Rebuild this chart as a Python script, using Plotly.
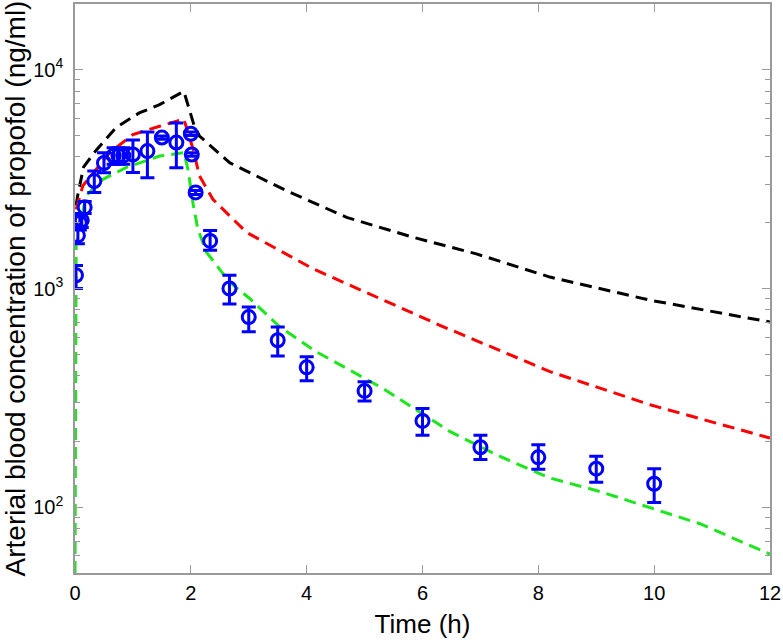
import plotly.graph_objects as go

# Observed data (mean with asymmetric error bars)
t_obs = [0.017, 0.05, 0.083, 0.117, 0.167, 0.333, 0.5, 0.667, 0.75, 0.833, 1.0, 1.25,
         1.5, 1.75, 2.0, 2.017, 2.083, 2.333, 2.667, 3.0, 3.5, 4.0, 5.0, 6.0, 7.0, 8.0, 9.0, 10.0]
c_obs = [1150, 1750, 2000, 2050, 2350, 3100, 3750, 4050, 4050, 4050, 4100, 4250,
         4900, 4650, 5100, 4100, 2750, 1650, 1000, 740, 580, 436, 340, 248, 188, 169, 150, 128]
err_up = [125, 150, 150, 150, 150, 350, 430, 350, 350, 350, 680, 940,
          80, 1060, 90, 80, 60, 190, 150, 82, 86, 52, 35, 35, 25, 24, 21, 22]
err_dn = [150, 150, 150, 150, 150, 350, 370, 350, 350, 350, 710, 1040,
          80, 1080, 90, 80, 60, 155, 150, 106, 89, 57, 34, 35, 23, 20, 20, 23]

# Model prediction curves
t_black = [0.02, 0.05, 0.15, 0.37, 0.71, 1.11, 1.46, 1.88, 2.06, 2.15, 2.67, 3.65, 4.69, 5.84, 6.93, 8.2, 9.93, 12.0]
c_black = [2400, 2700, 3600, 4300, 5450, 6350, 6930, 7970, 5520, 4980, 3760, 2800, 2115, 1714, 1440, 1128, 884, 703]

t_red = [0.02, 0.05, 0.135, 0.6, 1.0, 1.46, 1.88, 2.04, 2.15, 2.38, 2.96, 4.11, 5.26, 6.3, 8.2, 9.93, 12.0]
c_red = [2300, 2450, 2950, 4180, 5060, 5520, 5950, 4330, 3270, 2560, 1807, 1231, 898, 679, 417, 294, 207]

t_green = [0.0, 0.02, 0.19, 0.48, 0.88, 1.46, 1.88, 1.95, 2.04, 2.12, 2.27, 2.67, 3.02, 3.53, 4.17, 5.32, 6.47, 7.33, 8.2, 9.06, 10.79, 12.0]
c_green = [50, 1570, 2655, 3157, 3570, 4035, 4180, 3510, 2430, 1871, 1466, 1069, 898, 670, 513, 349, 222, 171, 136, 118, 84, 61]

x_ticks = [0, 2, 4, 6, 8, 10, 12]
y_ticks = [100, 1000, 10000]
y_ticktext = ["10<sup>2</sup>", "10<sup>3</sup>", "10<sup>4</sup>"]
y_minor = [60, 70, 80, 90, 200, 300, 400, 500, 600, 700, 800, 900,
           2000, 3000, 4000, 5000, 6000, 7000, 8000, 9000]

DASH = "12px,7px"
fig = go.Figure()
fig.add_trace(go.Scatter(x=t_black, y=c_black, mode="lines",
                         line=dict(color="black", width=3, dash=DASH), showlegend=False))
fig.add_trace(go.Scatter(x=t_red, y=c_red, mode="lines",
                         line=dict(color="#ff0000", width=3, dash=DASH), showlegend=False))
fig.add_trace(go.Scatter(x=t_green, y=c_green, mode="lines",
                         line=dict(color="#1ee61e", width=3, dash=DASH), showlegend=False))
fig.add_trace(go.Scatter(
    x=t_obs, y=c_obs, mode="markers",
    marker=dict(symbol="circle-open", size=13, color="#0000ff", line=dict(width=3, color="#0000ff")),
    error_y=dict(type="data", array=err_up, arrayminus=err_dn, color="#0000ff",
                 thickness=3, width=7, symmetric=False),
    showlegend=False))

axis_col = "#9a9a9a"
font_family = "Liberation Sans, Arial, sans-serif"
fig.update_layout(
    width=783, height=640,
    margin=dict(l=75, r=13, t=2, b=67),
    plot_bgcolor="white", paper_bgcolor="white",
    font=dict(family=font_family, color="black"),
    xaxis=dict(range=[0, 12], tickvals=x_ticks, ticks="inside", ticklen=8, tickcolor=axis_col,
               showline=True, linecolor=axis_col, linewidth=1.5, mirror="ticks", showgrid=False,
               zeroline=False, tickfont=dict(size=20), ticklabelstandoff=1,
               title=dict(text="Time (h)", font=dict(size=26), standoff=12)),
    yaxis=dict(type="log", range=[1.699, 4.301], tickmode="array", tickvals=y_ticks, ticktext=y_ticktext,
               ticks="inside", ticklen=8, tickcolor=axis_col,
               minor=dict(tickmode="array", tickvals=y_minor, ticks="inside", ticklen=5,
                          tickcolor=axis_col, showgrid=False),
               showline=True, linecolor=axis_col, linewidth=1.5, mirror="ticks", showgrid=False,
               zeroline=False, tickfont=dict(size=20), ticklabelstandoff=6,
               title=dict(text="Arterial blood concentration of propofol (ng/ml)", font=dict(size=28), standoff=1)),
)
fig.write_html("out.html", config={"displayModeBar": False},
               post_script="document.body.style.margin='0';document.body.style.overflow='hidden';")
